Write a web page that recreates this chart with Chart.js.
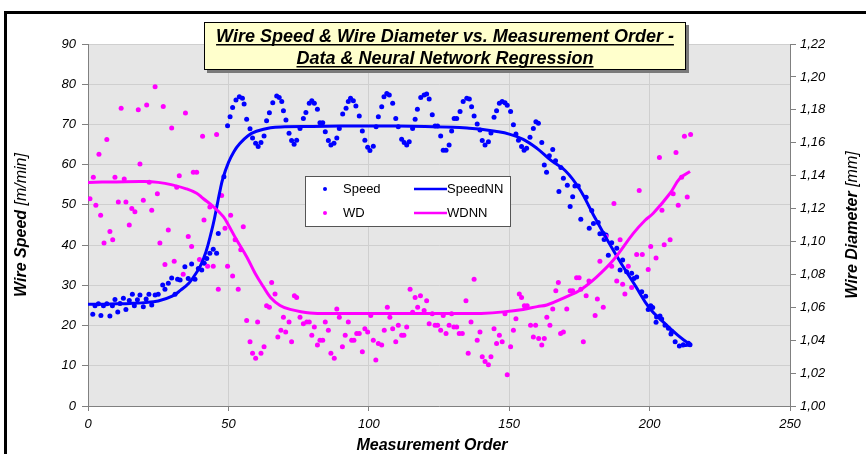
<!DOCTYPE html>
<html>
<head>
<meta charset="utf-8">
<script src="https://cdn.jsdelivr.net/npm/chart.js@4.4.0/dist/chart.umd.min.js"></script>
<style>
  html, body { margin: 0; padding: 0; background: #fff; }
</style>
</head>
<body>
<canvas id="wireChart" width="866" height="454"></canvas>
<script>
// measured wire speed [m/min]
const speedOrder = [1.7,2.5,3.7,4.6,5.5,6.7,7.8,8.7,9.6,10.6,11.4,12.6,13.5,14.7,15.8,16.5,17.6,18.5,19.7,20.7,
  21.7,22.7,23.9,25.0,26.6,27.4,28.6,29.8,31.0,31.9,32.8,34.5,35.7,36.9,38.1,39.3,40.5,41.4,42.3,43.4,
  44.6,45.8,46.4,48.4,49.7,50.6,51.5,52.7,53.9,55.0,55.6,56.5,57.7,58.6,59.7,60.6,61.6,62.7,63.6,64.6,
  65.8,67.2,68.1,69.0,69.6,70.5,71.6,72.5,73.4,74.3,75.5,76.7,77.6,78.8,79.7,80.6,81.7,82.6,83.6,84.5,
  85.6,86.5,87.6,88.6,89.5,90.7,91.9,92.7,93.5,94.5,95.4,96.6,97.7,98.6,99.6,100.4,101.6,102.6,103.4,104.6,
  105.4,106.4,107.3,108.5,109.6,110.5,111.7,112.6,113.5,114.4,115.6,116.5,117.3,118.5,119.7,120.6,121.5,122.6,123.6,124.5,
  125.6,126.5,127.5,128.6,129.5,130.4,131.3,132.5,133.6,134.9,135.8,136.6,137.5,138.6,139.6,140.4,141.4,142.6,143.5,144.6,
  145.5,146.5,147.5,148.5,149.3,150.5,151.5,152.4,153.3,154.4,155.3,156.2,157.4,158.6,159.5,160.4,161.6,162.5,163.3,164.3,
  165.5,166.5,167.7,168.4,169.3,170.7,171.7,172.6,173.4,174.6,175.5,177.4,178.5,179.4,180.0,181.7,182.3,183.5,183.8,184.5,
  185.3,186.5,188.3,189.5,190.4,191.8,193.6,194.4,195.4,197.2,198.6,199.5,200.4,201.1,202.3,202.5,203.7,204.3,205.5,206.7,
  207.6,207.9,209.1,210.6,212.0,213.8,214.4];
const speedValue = [22.8,24.9,25.4,22.5,24.9,25.4,22.4,24.9,26.5,23.4,25.5,26.8,24.0,26.2,27.8,24.9,26.4,27.6,24.7,26.6,
  27.8,25.1,27.6,27.8,30.1,29.0,30.5,31.8,27.8,31.5,31.3,34.6,31.7,35.3,31.5,34.2,33.8,35.5,36.7,38.0,
  39.0,38.0,42.9,57.0,69.7,71.9,74.2,76.1,76.9,76.5,75.1,71.3,68.9,66.6,65.3,64.5,65.5,67.1,70.9,72.9,
  75.4,77.1,76.7,75.7,73.4,71.1,67.8,66.0,65.1,66.1,69.0,71.5,73.0,75.3,75.9,75.3,73.8,70.4,70.4,68.2,
  66.0,64.9,65.3,66.6,69.0,72.6,74.0,75.7,76.5,75.9,74.6,72.1,68.4,66.1,64.3,63.5,64.6,69.4,71.9,74.4,
  76.9,77.7,77.3,75.3,71.5,69.4,66.3,65.5,64.9,65.7,69.0,71.3,73.8,76.7,77.3,77.6,76.3,72.4,69.6,69.6,
  67.1,63.6,63.6,64.9,68.4,71.5,71.5,73.2,75.7,76.5,76.3,74.4,72.1,70.1,68.6,66.0,64.9,65.7,67.9,71.8,
  73.4,75.3,75.7,75.4,74.8,73.2,69.9,67.6,66.1,64.5,63.6,64.1,66.8,69.0,70.7,70.3,65.5,59.9,58.1,62.2,
  63.8,61.0,53.3,59.3,56.6,54.9,49.6,52.0,54.7,54.7,46.4,51.9,44.2,48.6,45.4,45.6,42.8,42.9,41.4,42.5,
  37.5,40.6,39.2,33.8,36.3,33.4,33.0,31.7,32.1,28.4,27.3,24.0,24.9,24.5,20.8,22.1,22.4,21.6,20.1,19.3,
  17.9,18.5,16.0,14.9,15.2,15.6,15.2];

// neural network fit of wire speed
const speedNNOrder = [0,5,10,15,20,25,30,33,36,38,40,42,44,45,46,47,48,50,52,54,57,60,65,70,80,90,100,110,120,130,
  135,140,145,150,155,160,165,170,175,180,185,190,195,200,205,210,213,214.5,211.5];
const speedNNValue = [25.3,25.3,25.4,25.5,25.7,26.1,27.3,28.8,30.6,32.5,34.8,38.3,43.5,46.5,50.0,53.5,56.5,60.5,63.3,65.2,
  67.2,68.3,69.2,69.4,69.5,69.6,69.6,69.6,69.5,69.3,69.1,68.8,68.3,67.6,66.3,64.0,61.0,58.5,54.0,47.5,
  41.2,35.3,29.8,24.3,20.8,17.6,16.0,15.3,14.9];

// measured wire diameter [mm]
const wdOrder = [0.7,1.9,2.8,3.9,4.5,5.7,6.7,7.8,8.8,9.6,10.8,11.8,12.9,13.5,14.7,15.6,16.7,17.9,18.5,19.7,
  20.9,21.8,22.7,23.9,24.7,25.6,26.8,27.4,28.6,29.8,30.7,31.6,32.5,33.9,34.7,35.7,36.9,37.5,38.7,39.7,
  40.8,41.3,42.6,43.4,44.6,45.8,46.4,47.6,48.8,49.7,50.8,51.5,52.4,53.5,54.4,55.3,56.5,57.7,58.6,59.7,
  60.4,61.6,62.7,63.6,64.6,65.4,66.6,67.6,68.7,69.6,70.4,71.6,72.5,73.5,74.3,75.5,76.7,77.9,78.8,79.7,
  80.6,81.7,82.6,83.6,84.5,85.6,86.5,87.7,88.6,89.5,90.6,91.6,92.7,93.9,94.7,95.7,96.6,97.7,98.6,99.6,
  100.7,101.6,102.5,103.4,104.6,105.5,106.6,107.5,108.5,109.6,110.5,111.7,112.5,113.5,114.7,115.6,116.5,117.4,118.4,119.7,
  120.6,121.5,122.6,123.6,124.5,125.6,126.5,127.5,128.6,129.5,130.3,131.3,132.2,133.3,134.6,135.4,136.4,137.5,138.6,139.6,
  140.4,141.4,142.6,143.5,144.6,145.5,146.5,147.5,148.5,149.3,150.5,151.5,152.4,153.6,154.4,155.4,156.4,157.6,158.6,159.4,
  160.5,161.6,162.5,163.4,164.5,165.5,166.6,167.5,168.3,169.3,170.5,171.7,172.6,174.0,174.9,175.5,176.4,177.4,178.4,180.6,
  181.4,182.3,183.5,184.5,186.5,187.3,188.3,189.5,190.4,191.2,192.4,193.6,195.4,196.3,197.4,199.5,200.4,202.3,203.5,204.4,
  205.2,207.3,208.4,209.4,210.2,211.4,212.4,213.4,214.6];
const wdValue = [1.126,1.139,1.122,1.153,1.116,1.099,1.162,1.106,1.101,1.139,1.124,1.181,1.138,1.124,1.110,1.120,1.118,1.180,1.147,1.125,
  1.183,1.136,1.119,1.194,1.129,1.099,1.182,1.086,1.107,1.169,1.088,1.133,1.140,1.080,1.178,1.103,1.097,1.142,1.142,1.089,
  1.164,1.113,1.085,1.121,1.085,1.165,1.071,1.128,1.108,1.085,1.116,1.079,1.101,1.071,1.095,1.109,1.052,1.039,1.032,1.029,
  1.051,1.032,1.036,1.061,1.060,1.075,1.068,1.042,1.046,1.054,1.045,1.051,1.039,1.067,1.066,1.054,1.050,1.051,1.051,1.043,
  1.048,1.037,1.040,1.040,1.051,1.046,1.032,1.029,1.059,1.054,1.036,1.043,1.051,1.040,1.040,1.044,1.044,1.033,1.047,1.045,
  1.055,1.040,1.028,1.038,1.037,1.046,1.060,1.054,1.047,1.039,1.049,1.043,1.043,1.048,1.071,1.057,1.066,1.060,1.067,1.058,
  1.064,1.050,1.056,1.049,1.049,1.046,1.055,1.044,1.049,1.056,1.048,1.048,1.044,1.044,1.064,1.032,1.051,1.077,1.040,1.045,
  1.030,1.027,1.025,1.030,1.047,1.038,1.043,1.039,1.056,1.019,1.036,1.046,1.053,1.068,1.066,1.061,1.061,1.049,1.042,1.049,
  1.041,1.037,1.041,1.054,1.049,1.059,1.070,1.075,1.044,1.045,1.059,1.070,1.070,1.078,1.078,1.071,1.039,1.067,1.076,1.055,
  1.065,1.088,1.060,1.103,1.085,1.123,1.076,1.101,1.074,1.068,1.085,1.072,1.092,1.131,1.092,1.083,1.097,1.090,1.151,1.119,
  1.098,1.101,1.129,1.154,1.122,1.139,1.164,1.127,1.165];

// neural network fit of wire diameter
const wdNNOrder = [0,10,20,25,30,35,38.7,41,44.6,48.2,50,52.9,56.5,59.5,62.4,65,68.4,72,79,90,
  100,120,136,140,148,155,160,163.4,170.5,175.2,181,187.1,194.2,198.4,201.3,207.3,210.8,214.4];
const wdNNValue = [1.1359,1.1362,1.1364,1.1359,1.1344,1.1320,1.1293,1.1261,1.1212,1.1151,1.1100,1.1010,1.0907,1.0807,1.0726,1.0660,1.0611,1.0587,1.0565,1.0562,
  1.0562,1.0562,1.0562,1.0562,1.0572,1.0587,1.0604,1.0614,1.0665,1.0704,1.0782,1.0887,1.1049,1.1129,1.1171,1.1293,1.1384,1.1425];

const xTicks = { min: 0, max: 250, step: 50 };
const speedTicks = { min: 0, max: 90, step: 10 };
const wdTicks = { min: 1.0, max: 1.22, step: 0.02 };

const titleLines = ['Wire Speed & Wire Diameter vs. Measurement Order -', 'Data & Neural Network Regression'];

const toPoints = (xs, ys) => xs.map((x, i) => ({ x: x, y: ys[i] }));

const BLUE = '#0000ff';
const MAGENTA = '#ff00ff';
const FONT = "'Liberation Sans', Arial, sans-serif";

// background, frame, title box, legend box and axis titles
const decorations = {
  id: 'decorations',
  beforeDraw(chart) {
    const { ctx, chartArea: a } = chart;
    ctx.save();
    ctx.fillStyle = '#ffffff';
    ctx.fillRect(0, 0, chart.width, chart.height);
    ctx.fillStyle = '#e6e6e6';
    ctx.fillRect(a.left, a.top, a.right - a.left, a.bottom - a.top);
    ctx.restore();
  },
  afterDraw(chart) {
    const { ctx, chartArea: a } = chart;
    ctx.save();

    // outer frame
    ctx.strokeStyle = '#000';
    ctx.lineWidth = 3;
    ctx.strokeRect(5.5, 12.5, 1000, 1000);

    // title box
    ctx.fillStyle = '#7a7a7a';
    ctx.fillRect(207, 25, 482, 48);
    ctx.fillStyle = '#ffffcc';
    ctx.fillRect(204, 22, 482, 48);
    ctx.lineWidth = 1;
    ctx.strokeStyle = '#000';
    ctx.strokeRect(204.5, 22.5, 481, 47);
    ctx.fillStyle = '#000';
    ctx.font = 'italic bold 18px ' + FONT;
    ctx.textAlign = 'center';
    ctx.textBaseline = 'alphabetic';
    const cx = 445;
    [42, 64].forEach((base, i) => {
      const t = titleLines[i];
      ctx.fillText(t, cx, base);
      const w = ctx.measureText(t).width;
      ctx.fillRect(cx - w / 2, base + 2, w, 1.5);
    });

    // legend
    ctx.fillStyle = '#ffffff';
    ctx.fillRect(305, 176, 205, 50);
    ctx.strokeStyle = '#555';
    ctx.strokeRect(305.5, 176.5, 205, 50);
    const ds = chart.data.datasets;
    const rows = [[ds[0], ds[1]], [ds[2], ds[3]]];
    ctx.font = '13px ' + FONT;
    ctx.textAlign = 'left';
    ctx.textBaseline = 'middle';
    rows.forEach((row, r) => {
      const y = 189 + r * 24;
      ctx.fillStyle = row[0].backgroundColor;
      ctx.beginPath();
      ctx.arc(325, y, 2, 0, Math.PI * 2);
      ctx.fill();
      ctx.fillStyle = '#000';
      ctx.fillText(row[0].label, 343, y);
      ctx.strokeStyle = row[1].borderColor;
      ctx.lineWidth = 2.5;
      ctx.beginPath();
      ctx.moveTo(414, y);
      ctx.lineTo(447, y);
      ctx.stroke();
      ctx.fillStyle = '#000';
      ctx.fillText(row[1].label, 447, y);
    });

    // axis titles
    const midY = (a.top + a.bottom) / 2;
    const drawTitle = (bold, plain, x, y, rot) => {
      ctx.save();
      ctx.translate(x, y);
      ctx.rotate(rot);
      ctx.font = 'italic bold 16px ' + FONT;
      const w1 = ctx.measureText(bold).width;
      ctx.font = 'italic 16px ' + FONT;
      const w2 = ctx.measureText(plain).width;
      let sx = -(w1 + w2) / 2;
      ctx.fillStyle = '#000';
      ctx.textAlign = 'left';
      ctx.textBaseline = 'middle';
      ctx.font = 'italic bold 16px ' + FONT;
      ctx.fillText(bold, sx, 0);
      ctx.font = 'italic 16px ' + FONT;
      ctx.fillText(plain, sx + w1, 0);
      ctx.restore();
    };
    drawTitle('Wire Speed ', '[m/min]', 22, midY, -Math.PI / 2);
    drawTitle('Wire Diameter ', '[mm]', 853, midY, -Math.PI / 2);
    drawTitle('Measurement Order', '', 432, 446, 0);

    ctx.restore();
  }
};

const tickFont = { family: FONT, size: 13, style: 'italic' };

new Chart(document.getElementById('wireChart'), {
  type: 'scatter',
  data: {
    datasets: [
      {
        label: 'Speed',
        data: toPoints(speedOrder, speedValue),
        yAxisID: 'y',
        backgroundColor: BLUE,
        borderColor: BLUE,
        pointRadius: 2.5,
        pointBorderWidth: 0,
        order: 4
      },
      {
        label: 'SpeedNN',
        data: toPoints(speedNNOrder, speedNNValue),
        yAxisID: 'y',
        showLine: true,
        borderColor: BLUE,
        backgroundColor: BLUE,
        borderWidth: 3,
        pointRadius: 0,
        tension: 0.4,
        order: 2
      },
      {
        label: 'WD',
        data: toPoints(wdOrder, wdValue),
        yAxisID: 'y2',
        backgroundColor: MAGENTA,
        borderColor: MAGENTA,
        pointRadius: 2.5,
        pointBorderWidth: 0,
        order: 3
      },
      {
        label: 'WDNN',
        data: toPoints(wdNNOrder, wdNNValue),
        yAxisID: 'y2',
        showLine: true,
        borderColor: MAGENTA,
        backgroundColor: MAGENTA,
        borderWidth: 3,
        pointRadius: 0,
        tension: 0.4,
        order: 1
      }
    ]
  },
  options: {
    responsive: false,
    animation: false,
    devicePixelRatio: 1,
    layout: { padding: { top: 44, left: 0, right: 0, bottom: 0 } },
    plugins: {
      legend: { display: false },
      title: { display: false },
      tooltip: { enabled: false }
    },
    scales: {
      x: {
        type: 'linear',
        position: 'bottom',
        min: xTicks.min,
        max: xTicks.max,
        ticks: { stepSize: xTicks.step, font: tickFont, color: '#000', padding: 6 },
        grid: { color: '#cfcfcf', tickLength: 5, tickColor: '#808080' },
        border: { color: '#808080', width: 1 },
        afterFit: s => { s.height = 48; }
      },
      y: {
        position: 'left',
        min: speedTicks.min,
        max: speedTicks.max,
        ticks: { stepSize: speedTicks.step, font: tickFont, color: '#000', padding: 6 },
        grid: { color: '#cfcfcf', tickLength: 6, tickColor: '#808080' },
        border: { color: '#808080', width: 1 },
        afterFit: s => { s.width = 88; }
      },
      y2: {
        position: 'right',
        min: wdTicks.min,
        max: wdTicks.max,
        ticks: {
          stepSize: wdTicks.step,
          font: tickFont,
          color: '#000',
          padding: 4,
          callback: v => v.toFixed(2).replace('.', ',')
        },
        grid: { drawOnChartArea: false, tickLength: 6, tickColor: '#808080' },
        border: { color: '#808080', width: 1 },
        afterFit: s => { s.width = 76; }
      }
    }
  },
  plugins: [decorations]
});
</script>
</body>
</html>
